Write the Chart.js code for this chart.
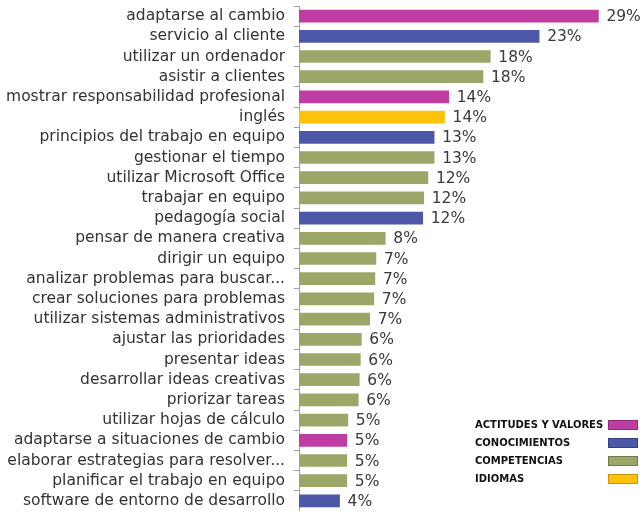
<!DOCTYPE html>
<html>
<head>
<meta charset="utf-8">
<script src="https://cdn.jsdelivr.net/npm/chart.js@4.4.1/dist/chart.umd.min.js"></script>
<style>
  html, body { margin: 0; padding: 0; background: #fff; overflow: hidden; }
  #wrap { position: relative; width: 641px; height: 511px; }
</style>
</head>
<body>
<div id="wrap"><canvas id="skillsChart"></canvas></div>
<script>
// categories, top to bottom
const categories = [
  'adaptarse al cambio', 'servicio al cliente', 'utilizar un ordenador', 'asistir a clientes',
  'mostrar responsabilidad profesional', 'inglés', 'principios del trabajo en equipo',
  'gestionar el tiempo', 'utilizar Microsoft Office', 'trabajar en equipo', 'pedagogía social',
  'pensar de manera creativa', 'dirigir un equipo', 'analizar problemas para buscar...',
  'crear soluciones para problemas', 'utilizar sistemas administrativos', 'ajustar las prioridades',
  'presentar ideas', 'desarrollar ideas creativas', 'priorizar tareas', 'utilizar hojas de cálculo',
  'adaptarse a situaciones de cambio', 'elaborar estrategias para resolver...',
  'planificar el trabajo en equipo', 'software de entorno de desarrollo'
];
// share of offers (%)
const values = [
  28.8, 23.1, 18.4, 17.7, 14.4, 14.0, 13.0, 13.0, 12.4, 12.0, 11.9,
  8.3, 7.4, 7.3, 7.2, 6.8, 6.0, 5.9, 5.8, 5.7, 4.7, 4.6, 4.6, 4.6, 3.9
];
// group index for each category
const groupOf = [0, 1, 2, 2, 0, 3, 1, 2, 2, 2, 1, 2, 2, 2, 2, 2, 2, 2, 2, 2, 2, 0, 2, 2, 1];
const groups = ['ACTITUDES Y VALORES', 'CONOCIMIENTOS', 'COMPETENCIAS', 'IDIOMAS'];
const groupColors = ['#BF3CA2', '#4C58A7', '#9BA769', '#FFC10A'];
const groupBorders = ['#8E2C7A', '#343F80', '#6F7A48', '#C8960A'];

const valueLabels = {
  id: 'valueLabels',
  afterDatasetsDraw(chart) {
    const ctx = chart.ctx;
    const meta = chart.getDatasetMeta(0);
    ctx.save();
    ctx.font = '15.5px "DejaVu Sans", Verdana, sans-serif';
    ctx.fillStyle = '#3a3a3a';
    ctx.textBaseline = 'middle';
    meta.data.forEach(function (bar, i) {
      ctx.fillText(Math.round(values[i]) + '%', bar.x + 8, bar.y + 1);
    });
    ctx.restore();
  }
};

const groupLegend = {
  id: 'groupLegend',
  afterDraw(chart) {
    const ctx = chart.ctx;
    const right = chart.chartArea.right;
    ctx.save();
    ctx.font = 'bold 10px "DejaVu Sans", Verdana, sans-serif';
    ctx.textBaseline = 'middle';
    groups.forEach(function (name, i) {
      const y = 425 + i * 18;
      ctx.fillStyle = '#111';
      ctx.fillText(name, right - 166, y);
      ctx.fillStyle = groupColors[i];
      ctx.fillRect(right - 33, y - 5, 30, 10);
      ctx.strokeStyle = groupBorders[i];
      ctx.lineWidth = 1;
      ctx.strokeRect(right - 32.5, y - 4.5, 29, 9);
    });
    ctx.restore();
  }
};

const ctx = document.getElementById('skillsChart').getContext('2d');
new Chart(ctx, {
  type: 'bar',
  data: {
    labels: categories,
    datasets: [{
      data: values,
      backgroundColor: groupOf.map(g => groupColors[g]),
      borderWidth: 0,
      barThickness: 12
    }]
  },
  options: {
    indexAxis: 'y',
    responsive: true,
    maintainAspectRatio: false,
    animation: false,
    layout: { padding: { top: 6, right: 0, bottom: 0, left: 0 } },
    plugins: { legend: { display: false }, tooltip: { enabled: false } },
    scales: {
      x: { display: false, min: 0, max: 32.9 },
      y: {
        afterFit: function (scale) {
          scale.width = 299;
          scale.paddingTop = 0;
          scale.paddingBottom = 0;
        },
        border: { color: '#a0a0a0' },
        grid: {
          offset: true,
          drawOnChartArea: false,
          tickLength: 5,
          color: '#a0a0a0'
        },
        ticks: {
          autoSkip: false,
          color: '#333',
          padding: 9,
          font: { family: '"DejaVu Sans", Verdana, sans-serif', size: 15.5 }
        }
      }
    }
  },
  plugins: [valueLabels, groupLegend]
});
</script>
</body>
</html>
